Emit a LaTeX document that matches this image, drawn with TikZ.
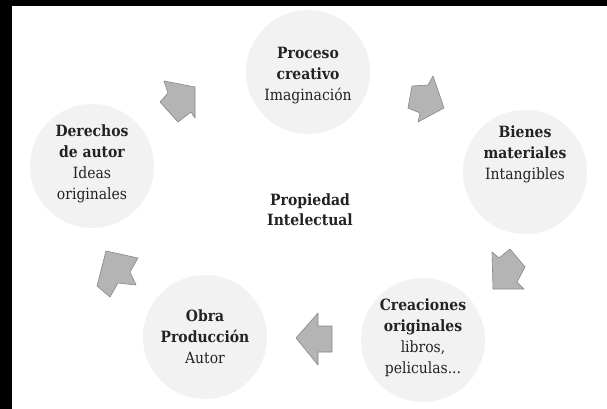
\documentclass[tikz,border=0pt]{standalone}
\usepackage{fontspec}
\setmainfont{DejaVu Serif Condensed}
\usepackage{xcolor}
\usetikzlibrary{positioning}

\definecolor{bubblegray}{RGB}{242,242,242}
\definecolor{arrowgray}{RGB}{180,180,180}
\definecolor{arrowedge}{RGB}{135,135,135}
\definecolor{inkgray}{RGB}{35,35,35}

\begin{document}
\begin{tikzpicture}[
    x=1pt, y=-1pt,
    bubble/.style={
        circle, fill=bubblegray, draw=none,
        minimum size=124pt, inner sep=0pt
    },
    caption/.style={
        align=center, text=inkgray, inner sep=0pt,
        font=\fontsize{15.5}{21}\selectfont
    },
    blockarrow/.style={fill=arrowgray, draw=arrowedge, line width=0.6pt, line join=round}
]

% frame of the scan
\useasboundingbox (0,0) rectangle (607,409);
\fill[white] (0,0) rectangle (607,409);
\fill[black] (0,0) rectangle (12,409);
\fill[black] (0,0) rectangle (607,6);

% 1. Circles of the cycle
\node[bubble] (proceso) at (308,72) {};
\node[bubble] (bienes) at (525,172) {};
\node[bubble] (creaciones) at (423,340) {};
\node[bubble] (obra) at (205,337) {};
\node[bubble] (derechos) at (92,166) {};

% 2. Texts inside the circles
\node[caption] (procesoT) at (308,76) {\textbf{Proceso}\\ \textbf{creativo}\\ Imaginación};
\node[caption] (bienesT) at (525,154) {\textbf{Bienes}\\ \textbf{materiales}\\ Intangibles};
\node[caption] (creacionesT) at (423,338) {\textbf{Creaciones}\\ \textbf{originales}\\ libros,\\ peliculas...};
\node[caption] (obraT) at (205,337) {\textbf{Obra}\\ \textbf{Producción}\\ Autor};
\node[caption] (derechosT) at (92,164) {\textbf{Derechos}\\ \textbf{de autor}\\ Ideas\\ originales};

% 3. Centre
\node[caption, font=\fontsize{15.5}{20}\selectfont\bfseries] (centro) at (310,210) {Propiedad\\ Intelectual};

% 4. Block arrows between the circles
\filldraw[blockarrow] (164,81) -- (195,87) -- (195,118) -- (191,112) -- (178,122) -- (160,102) -- (168,93) -- cycle;
\filldraw[blockarrow] (412,86) -- (428,85) -- (433,76) -- (444,108) -- (418,122) -- (420,113) -- (408,108) -- cycle;
\filldraw[blockarrow] (492,252) -- (499,258) -- (510,249) -- (525,267) -- (517,282) -- (524,289) -- (493,289) -- cycle;
\filldraw[blockarrow] (296,338) -- (318,313) -- (318,326) -- (332,326) -- (332,352) -- (318,352) -- (318,365) -- cycle;
\filldraw[blockarrow] (106,251) -- (138,258) -- (130,272) -- (136,285) -- (118,283) -- (110,297) -- (97,286) -- cycle;

\end{tikzpicture}
\end{document}
